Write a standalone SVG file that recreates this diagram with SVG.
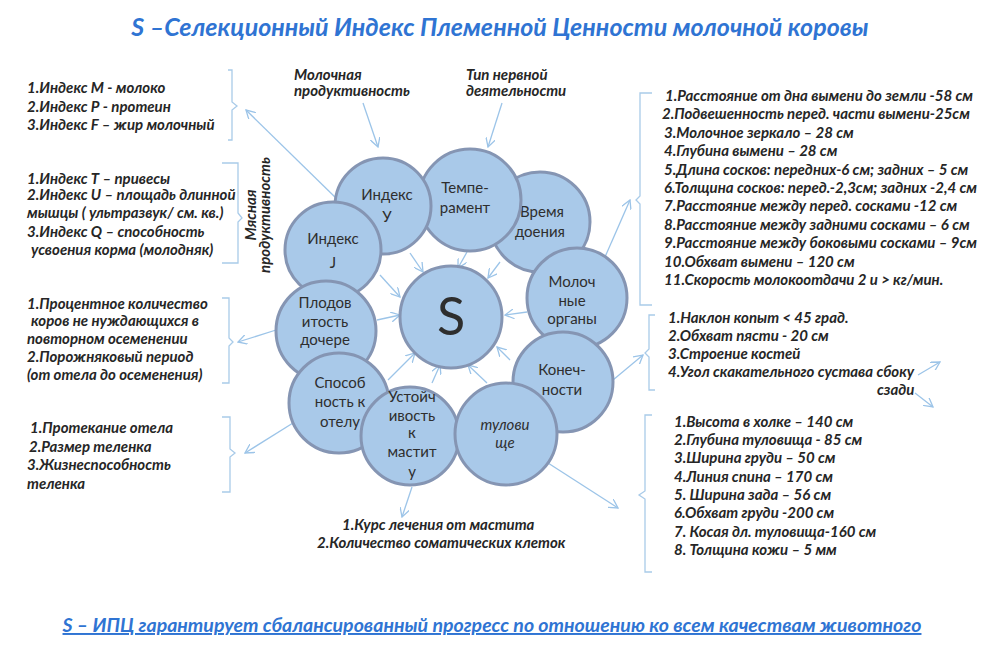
<svg xmlns="http://www.w3.org/2000/svg" width="1008" height="659" viewBox="0 0 1008 659">
<style>
.bg{fill:#ffffff}
.c{fill:#a9c9e9;stroke:#8595b3;stroke-width:3}
.ct{font-family:Lato,"Noto Sans",sans-serif;font-size:15px;fill:#2e2e2e;text-anchor:middle}
.big{font-size:52px}
.it{font-style:italic}
.t{font-family:Lato,"Noto Sans",sans-serif;font-size:15px;font-weight:bold;font-style:italic;fill:#262626}
.ln{fill:none;stroke:#9cc4e8;stroke-width:1.3}
.br{fill:none;stroke:#a9cbe9;stroke-width:1.3}
.title{font-family:Lato,"Noto Sans",sans-serif;font-weight:bold;font-style:italic;fill:#2f74d3;text-anchor:middle}
</style>
<defs>
<marker id="ah" viewBox="0 0 10 10" refX="9" refY="5" markerWidth="10" markerHeight="10" markerUnits="userSpaceOnUse" orient="auto">
<path d="M0,0 L9,5 L0,10" fill="none" stroke="#9cc4e8" stroke-width="1.3"/>
</marker>
</defs>
<rect class="bg" x="0" y="0" width="1008" height="659"/>

<text class="title" x="500" y="36" style="font-size:25px">S –Селекционный  Индекс Племенной Ценности молочной коровы</text>

<g id="connectors">
<path class="ln" d="M338,200 L246,110" marker-end="url(#ah)"/>
<path class="ln" d="M363,103 L378,147" marker-end="url(#ah)"/>
<path class="ln" d="M502,103 L488,147" marker-end="url(#ah)"/>
<path class="ln" d="M410,253 L423,272" marker-end="url(#ah)"/>
<path class="ln" d="M467,252 L458,268" marker-end="url(#ah)"/>
<path class="ln" d="M500,262 L488,278" marker-end="url(#ah)"/>
<path class="ln" d="M380,275 L400,297" marker-end="url(#ah)"/>
<path class="ln" d="M527,312 L505,315" marker-end="url(#ah)"/>
<path class="ln" d="M377,320 L400,315" marker-end="url(#ah)"/>
<path class="ln" d="M388,380 L415,353" marker-end="url(#ah)"/>
<path class="ln" d="M432,383 L440,365" marker-end="url(#ah)"/>
<path class="ln" d="M487,383 L468,365" marker-end="url(#ah)"/>
<path class="ln" d="M510,360 L497,347" marker-end="url(#ah)"/>
<path class="ln" d="M276,330 L238,342" marker-end="url(#ah)"/>
<path class="ln" d="M293,423 L245,453" marker-end="url(#ah)"/>
<path class="ln" d="M412,487 L402,517" marker-end="url(#ah)"/>
<path class="ln" d="M548,463 L618,508" marker-end="url(#ah)"/>
<path class="ln" d="M613,380 L643,355" marker-end="url(#ah)"/>
<path class="ln" d="M605,257 L630,200" marker-end="url(#ah)"/>
<path class="ln" d="M918,375 L940,362" marker-end="url(#ah)"/>
<path class="ln" d="M915,393 L933,407" marker-end="url(#ah)"/>
<path class="br" d="M228,70 L232,70 L232,102 L237,106 L232,110 L232,140 L228,140"/>
<path class="br" d="M222,163 L238,163 L238,213 L242,218 L238,222 L238,263 L222,263"/>
<path class="br" d="M222,298 L229,298 L229,338 L233,342 L229,346 L229,383 L222,383"/>
<path class="br" d="M222,417 L230,417 L230,449 L235,453 L230,457 L230,492 L222,492"/>
<path class="br" d="M652,93 L640,93 L640,196 L636,200 L640,204 L640,305 L652,305"/>
<path class="br" d="M655,315 L649,315 L649,349 L645,353 L649,357 L649,390 L655,390"/>
<path class="br" d="M652,415 L645,415 L645,491 L639,495 L645,499 L645,572 L652,572"/>
</g>

<g id="n-vremya"><circle class="c" cx="540" cy="222" r="50"/><text class="ct" x="542" y="217">Время</text><text class="ct" x="540" y="237">доения</text></g>
<g id="n-temp"><circle class="c" cx="470" cy="200" r="51"/><text class="ct" x="465" y="193">Темпе-</text><text class="ct" x="465" y="213">рамент</text></g>
<g id="n-indexY"><circle class="c" cx="383" cy="206" r="48"/><text class="ct" x="387" y="200">Индекс</text><text class="ct" x="387" y="222">У</text></g>
<g id="n-indexJ"><circle class="c" cx="333" cy="250" r="48"/><text class="ct" x="333" y="244">Индекс</text><text class="ct" x="333" y="268">J</text></g>
<g id="n-moloch"><circle class="c" cx="577" cy="298" r="50"/><text class="ct" x="572" y="287">Молоч</text><text class="ct" x="572" y="306">ные</text><text class="ct" x="572" y="324">органы</text></g>
<g id="n-plod"><circle class="c" cx="326" cy="331" r="50"/><text class="ct" x="325" y="308">Плодов</text><text class="ct" x="325" y="327">итость</text><text class="ct" x="325" y="345">дочере</text></g>
<g id="n-sposob"><circle class="c" cx="339" cy="403" r="50"/><text class="ct" x="340" y="388">Способ</text><text class="ct" x="340" y="407">ность к</text><text class="ct" x="340" y="427">отелу</text></g>
<g id="n-konech"><circle class="c" cx="563" cy="382" r="50"/><text class="ct" x="562" y="375">Конеч-</text><text class="ct" x="562" y="395">ности</text></g>
<g id="n-ustoych"><circle class="c" cx="410" cy="436" r="49"/><text class="ct" x="412" y="402">Устойч</text><text class="ct" x="412" y="421">ивость</text><text class="ct" x="412" y="438">к</text><text class="ct" x="412" y="457">мастит</text><text class="ct" x="412" y="477">у</text></g>
<g id="n-tulov"><circle class="c" cx="506" cy="434" r="51"/><text class="ct it" x="505" y="430">тулови</text><text class="ct it" x="505" y="448">ще</text></g>
<g id="n-S"><circle class="c" cx="451" cy="317" r="51"/><text class="ct big" x="451" y="335">S</text></g>

<g id="top-labels">
<text class="t" x="294" y="80">Молочная</text>
<text class="t" x="294" y="96">продуктивность</text>
<text class="t" x="466" y="80">Тип нервной</text>
<text class="t" x="466" y="96">деятельности</text>
<text class="t" transform="translate(256,215) rotate(-90)" text-anchor="middle">Мясная</text>
<text class="t" transform="translate(270,215) rotate(-90)" text-anchor="middle">продуктивность</text>
</g>

<g id="left-blocks">
<text class="t" x="27" y="93">1.Индекс  М - молоко</text>
<text class="t" x="27" y="112">2.Индекс  Р - протеин</text>
<text class="t" x="27" y="130">3.Индекс  F – жир  молочный</text>
<text class="t" x="27" y="184">1.Индекс  Т – привесы</text>
<text class="t" x="27" y="200">2.Индекс  U – площадь длинной</text>
<text class="t" x="27" y="218">мышцы  ( ультразвук/ см. кв.)</text>
<text class="t" x="27" y="237">3.Индекс  Q – способность</text>
<text class="t" x="31" y="255">усвоения корма (молодняк)</text>
<text class="t" x="27" y="309">1.Процентное количество</text>
<text class="t" x="31" y="326">коров не нуждающихся в</text>
<text class="t" x="27" y="344">повторном осеменении</text>
<text class="t" x="27" y="362">2.Порожняковый период</text>
<text class="t" x="27" y="380">(от отела до осеменения)</text>
<text class="t" x="30" y="433">1.Протекание отела</text>
<text class="t" x="29" y="452">2.Размер теленка</text>
<text class="t" x="27" y="470">3.Жизнеспособность</text>
<text class="t" x="27" y="489">теленка</text>
</g>

<g id="bottom-block">
<text class="t" x="342" y="530">1.Курс лечения от мастита</text>
<text class="t" x="317" y="548">2.Количество соматических клеток</text>
</g>

<g id="right-blocks">
<text class="t" x="665" y="101">1.Расстояние от дна вымени до земли -58 см</text>
<text class="t" x="662" y="119">2.Подвешенность перед. части вымени-25см</text>
<text class="t" x="664" y="138">3.Молочное зеркало – 28 см</text>
<text class="t" x="664" y="156">4.Глубина вымени – 28 см</text>
<text class="t" x="664" y="175">5.Длина сосков: передних-6 см; задних – 5 см</text>
<text class="t" x="664" y="193">6.Толщина сосков: перед.-2,3см; задних -2,4 см</text>
<text class="t" x="664" y="211">7.Расстояние между перед. сосками  -12 см</text>
<text class="t" x="664" y="230">8.Расстояние между задними  сосками – 6 см</text>
<text class="t" x="664" y="248">9.Расстояние между боковыми сосками – 9см</text>
<text class="t" x="664" y="267">10.Обхват  вымени – 120 см</text>
<text class="t" x="664" y="285">11.Скорость молокоотдачи  2  и  &gt;  кг/мин.</text>
<text class="t" x="668" y="323">1.Наклон копыт &lt; 45 град.</text>
<text class="t" x="668" y="341">2.Обхват пясти  - 20 см</text>
<text class="t" x="668" y="359">3.Строение костей</text>
<text class="t" x="668" y="377">4.Угол скакательного сустава сбоку</text>
<text class="t" x="877" y="395">сзади</text>
<text class="t" x="674" y="427">1.Высота в холке – 140 см</text>
<text class="t" x="674" y="445">2.Глубина туловища - 85 см</text>
<text class="t" x="674" y="463">3.Ширина груди – 50 см</text>
<text class="t" x="674" y="482">4.Линия спина – 170 см</text>
<text class="t" x="674" y="500">5. Ширина зада – 56 см</text>
<text class="t" x="674" y="518">6.Обхват груди -200 см</text>
<text class="t" x="674" y="537">7. Косая дл. туловища-160 см</text>
<text class="t" x="674" y="555">8. Толщина кожи – 5 мм</text>
</g>

<text class="title" x="492" y="632" style="font-size:19.5px" text-decoration="underline">S – ИПЦ  гарантирует сбалансированный прогресс по отношению ко всем качествам животного</text>
</svg>
